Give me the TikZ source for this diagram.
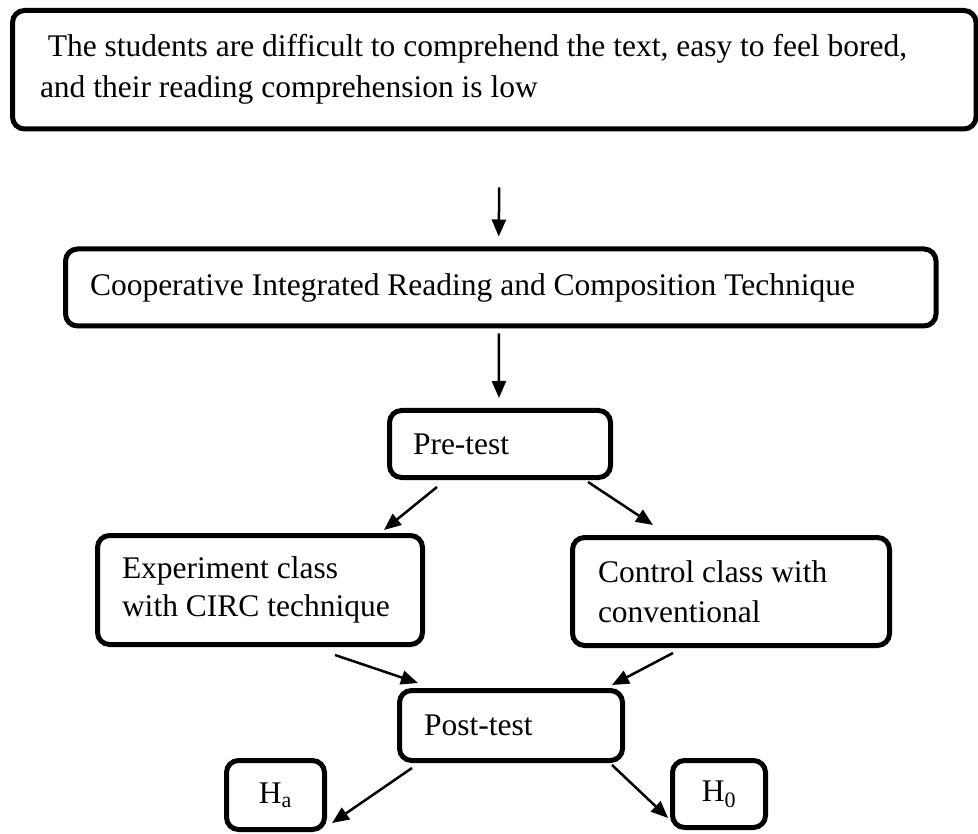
\documentclass[tikz,border=0pt]{standalone}
\usepackage{fontspec}
\setmainfont{Liberation Serif}
\usepackage{tikz}
\usetikzlibrary{positioning, calc, arrows.meta}

\begin{document}
\begin{tikzpicture}[x=1pt, y=-1pt,
    box/.style={draw, line width=5pt, rounded corners=12pt, align=flush left, inner ysep=0pt,
      font=\fontsize{31.5}{40}\selectfont},
    hbox/.style={draw, line width=5pt, rounded corners=12pt, align=center, inner sep=0pt,
      font=\fontsize{31.5}{40}\selectfont},
    flow/.style={line width=2.5pt, arrows={-Triangle[length=17pt,width=14pt]}}]
      \useasboundingbox (0,0) rectangle (978,834);

      \node[box, text width=908.5pt, inner xsep=27.5pt, minimum height=118.5pt,
        font=\fontsize{31.5}{41}\selectfont] (Prob) at (494.25,69.75)
        {\hspace*{0.25em}The students are difficult to comprehend the text, easy to feel bored,\\and their reading comprehension is low};

      \node[box, text width=821.5pt, inner xsep=24.5pt, minimum height=77pt] (CIRC) at (500.75,287.5)
        {Cooperative Integrated Reading and Composition Technique};

      \node[box, text width=174pt, inner xsep=23.5pt, minimum height=67pt] (Pre) at (500,444) {Pre-test};

      \node[box, text width=276pt, inner xsep=24.5pt, minimum height=109pt,
        font=\fontsize{31.5}{38}\selectfont] (Exp) at (260,590)
        {Experiment class\\with CIRC technique};
      \node[box, text width=266pt, inner xsep=25.5pt, minimum height=108pt] (Ctrl) at (731,591.5)
        {Control class with\\conventional};

      \node[box, text width=174pt, inner xsep=24.5pt, minimum height=70pt] (Post) at (511,725.5) {Post-test};

      \node[hbox, minimum width=98pt, minimum height=69pt] (Ha) at (275.5,795) {H\textsubscript{a}};
      \node[hbox, minimum width=93pt, minimum height=67pt] (Hnull) at (719,794) {H\textsubscript{0}};

      \draw[flow] ($(Prob.south)+(5,56)$) -- ($(CIRC.north)+(-2,-10)$);
      \draw[flow] ($(CIRC.south)+(-2,5)$) -- ($(Pre.north)+(-1,-10)$);
      \draw[flow] ($(Pre.south)+(-63,7)$) -- ($(Exp.north)+(124,-3)$);
      \draw[flow] ($(Pre.south)+(88,2)$) -- ($(Ctrl.north)+(-78,-10)$);
      \draw[flow] ($(Exp.south)+(75,8)$) -- ($(Post.north)+(-93,-5)$);
      \draw[flow] ($(Ctrl.south)+(-58,5)$) -- ($(Post.north)+(101,-3)$);
      \draw[flow] ($(Post.south)+(-99,5)$) -- ($(Ha.east)+(5,28)$);
      \draw[flow] ($(Post.south)+(101,2)$) -- ($(Hnull.west)+(-2,24)$);
    \end{tikzpicture}
\end{document}
